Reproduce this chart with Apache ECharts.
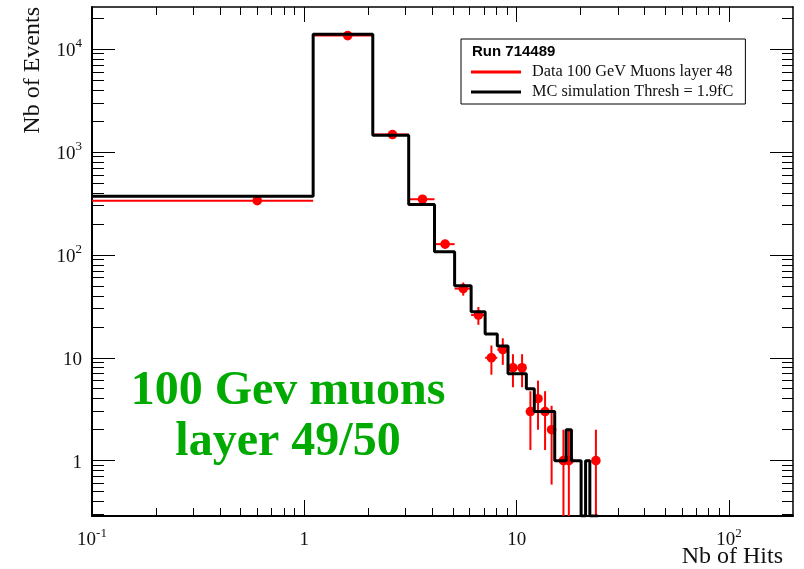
<!DOCTYPE html>
<html><head><meta charset="utf-8">
<script src="https://cdn.jsdelivr.net/npm/echarts@6/dist/echarts.min.js"></script>
<style>html,body{margin:0;padding:0;background:#fff}#c{width:804px;height:569px}</style>
</head><body><div id="c"></div>
<script>
// ---- data ----
const binEdges = [0.1,1.1,2.1,3.1,4.1,5.1,6.1,7.1,8.1,9.1,10.1,11.1,12.1,13.1,14.1,15.1,16.1,17.1,18.1,19.1,20.1,21.1,22.1,23.1,24.1];
const binCenters = [0.6,1.6,2.6,3.6,4.6,5.6,6.6,7.6,8.6,9.6,10.6,11.6,12.6,13.6,14.6,15.6,16.6,17.6,18.6,19.6,20.6,21.6,22.6,23.6];
const mcCounts = [372,13900,1450,308,107,50,28,17,13,7,7,5,3,3,3,1,1,2,1,1,0,1,0,0];
const dataCounts = [336,13500,1475,347,127,47,26,10,12,8,8,3,4,3,2,0,1,1,0,0,0,0,0,1];
const xMajorTicks = [0.1,1,10,100];
const xMinorTicks = [0.2,0.3,0.4,0.5,0.6,0.7,0.8,0.9,2,3,4,5,6,7,8,9,20,30,40,50,60,70,80,90];
const yMajorTicks = [1,10,100,1000,10000];
const yMinorTicks = [0.3,0.4,0.5,0.6,0.7,0.8,0.9,2,3,4,5,6,7,8,9,20,30,40,50,60,70,80,90,200,300,400,500,600,700,800,900,2000,3000,4000,5000,6000,7000,8000,9000,20000];
const xRange = [0.1, 200];
const yRange = [0.29, 25600];
const dataName = 'Data 100 GeV Muons layer 48';
const mcName = 'MC simulation Thresh = 1.9fC';

const yMin = yRange[0];
const mcLine = binEdges.map((e, i) => [e, Math.max(mcCounts[Math.min(i, mcCounts.length - 1)], yMin)]);
const dataPts = [];
dataCounts.forEach((n, i) => {
  if (n > 0) dataPts.push([binCenters[i], n, Math.sqrt(n), binEdges[i], binEdges[i + 1]]);
});

const serif = 'Liberation Serif';
function powLabel(v) {
  const p = Math.round(Math.log10(v));
  if (p === 0) return '{b|1}';
  if (p === 1) return '{b|10}';
  return '{b|10}{s|' + p + '}';
}
const rich = {
  b: {fontFamily: serif, fontSize: 19, color: '#111', padding: [4, 0, 0, 0], verticalAlign: 'bottom'},
  s: {fontFamily: serif, fontSize: 13, color: '#111', verticalAlign: 'top'}
};
function xAx(pos, ticks, len, labels, line) {
  return {
    type: 'log', logBase: 10, position: pos, min: xRange[0], max: xRange[1],
    axisLine: {show: line, lineStyle: {color: '#000', width: pos === 'bottom' ? 2 : 1.5}},
    axisTick: {show: true, inside: true, length: len, customValues: ticks, lineStyle: {color: '#000', width: 1}},
    axisLabel: labels ? {show: true, customValues: ticks, margin: 11, formatter: powLabel, rich: rich} : {show: false},
    splitLine: {show: false}, minorTick: {show: false}
  };
}
function yAx(pos, ticks, len, labels, line) {
  return {
    type: 'log', logBase: 10, position: pos, min: yRange[0], max: yRange[1],
    axisLine: {show: line, lineStyle: {color: '#000', width: pos === 'left' ? 2 : 1.5}},
    axisTick: {show: true, inside: true, length: len, customValues: ticks, lineStyle: {color: '#000', width: 1}},
    axisLabel: labels ? {show: true, customValues: ticks, margin: 10, formatter: powLabel, rich: rich} : {show: false},
    splitLine: {show: false}, minorTick: {show: false}
  };
}

const chart = echarts.init(document.getElementById('c'), null, {renderer: 'canvas'});
chart.setOption({
  animation: false,
  backgroundColor: '#fff',
  grid: {left: 92, top: 7, right: 11, bottom: 53, containLabel: false, outerBoundsMode: 'none'},
  xAxis: [
    xAx('bottom', xMajorTicks, 16, true, true),
    xAx('bottom', xMinorTicks, 8, false, false),
    xAx('top', xMajorTicks, 15, false, true),
    xAx('top', xMinorTicks, 8, false, false)
  ],
  yAxis: [
    yAx('left', yMajorTicks, 23, true, true),
    yAx('left', yMinorTicks, 12, false, false),
    yAx('right', yMajorTicks, 23, false, true),
    yAx('right', yMinorTicks, 11, false, false)
  ],
  legend: {
    left: 461, top: 39, orient: 'vertical',
    padding: [25, 12, 4, 10], itemGap: 4, itemWidth: 50, itemHeight: 3,
    borderColor: '#000', borderWidth: 1, backgroundColor: '#fff',
    textStyle: {fontFamily: serif, fontSize: 16.3, color: '#111', padding: [0, 0, 0, 6]},
    data: [
      {name: dataName, icon: 'rect', itemStyle: {color: '#ff0000'}},
      {name: mcName, icon: 'rect', itemStyle: {color: '#000'}}
    ]
  },
  graphic: [
    {type: 'text', left: 472, top: 44, style: {text: 'Run 714489', fontFamily: 'Liberation Sans', fontWeight: 'bold', fontSize: 15, fill: '#000'}, z: 100},
    {type: 'text', x: 33, y: 7, rotation: Math.PI / 2, style: {text: 'Nb of Events', fontFamily: serif, fontSize: 24, fill: '#111', align: 'right', verticalAlign: 'middle'}},
    {type: 'text', x: 783, y: 557, style: {text: 'Nb of Hits', fontFamily: serif, fontSize: 24, fill: '#111', align: 'right', verticalAlign: 'middle'}},
    {type: 'text', x: 288, y: 392, style: {text: '100 Gev muons', fontFamily: serif, fontWeight: 'bold', fontSize: 48, fill: '#00aa00', align: 'center', verticalAlign: 'middle'}},
    {type: 'text', x: 288, y: 443, style: {text: 'layer 49/50', fontFamily: serif, fontWeight: 'bold', fontSize: 48, fill: '#00aa00', align: 'center', verticalAlign: 'middle'}}
  ],
  series: [
    {
      name: dataName, type: 'custom', xAxisIndex: 0, yAxisIndex: 0,
      itemStyle: {color: '#ff0000'}, clip: true, z: 2,
      encode: {x: 0, y: 1},
      data: dataPts,
      renderItem: function (params, api) {
        const x = api.value(0), y = api.value(1), err = api.value(2);
        const xl = api.value(3), xh = api.value(4);
        const c = api.coord([x, y]);
        const t = api.coord([x, y + err]);
        const b = api.coord([x, Math.max(y - err, yMin)]);
        const l = api.coord([xl, y]);
        const r = api.coord([xh, y]);
        const st = {stroke: '#ff0000', lineWidth: 2};
        return {type: 'group', children: [
          {type: 'line', shape: {x1: c[0], y1: t[1], x2: c[0], y2: b[1]}, style: st},
          {type: 'line', shape: {x1: l[0], y1: c[1], x2: r[0], y2: c[1]}, style: st},
          {type: 'circle', shape: {cx: c[0], cy: c[1], r: 4.8}, style: {fill: '#ff0000'}}
        ]};
      }
    },
    {
      name: mcName, type: 'line', xAxisIndex: 0, yAxisIndex: 0,
      step: 'end', showSymbol: false, symbol: 'none', color: '#000', z: 3,
      lineStyle: {color: '#000', width: 3},
      data: mcLine
    }
  ]
});
</script></body></html>
